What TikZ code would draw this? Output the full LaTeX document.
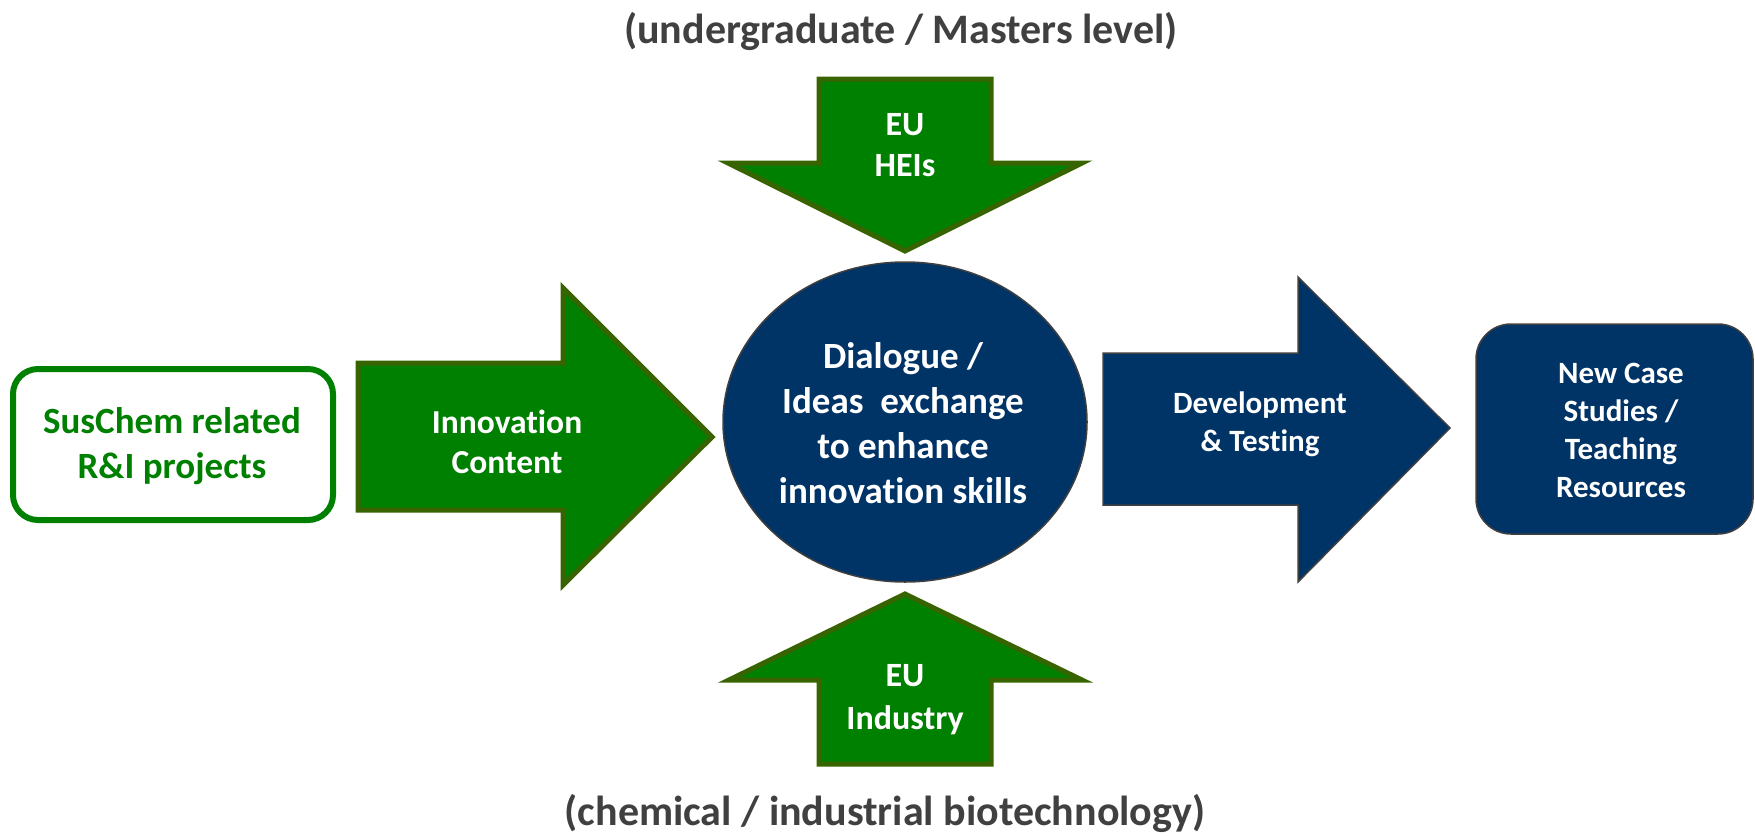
\documentclass[tikz,border=0pt]{standalone}
\usepackage{fontspec}
\setmainfont[Ligatures={NoCommon}]{Carlito}
\usepackage{tikz}

\definecolor{arrowgreen}{RGB}{0,128,0}
\definecolor{olive}{RGB}{56,100,0}
\definecolor{navy}{RGB}{0,51,102}
\definecolor{darkgray}{RGB}{64,64,64}

\tikzset{
  greenarrow/.style={fill=arrowgreen, draw=olive, line width=5pt, line join=miter},
  navyshape/.style={fill=navy, draw=darkgray, line width=1.5pt},
  label/.style={text=white, font=\bfseries, align=center, inner sep=0pt},
}

\begin{document}
\begin{tikzpicture}[x=1pt, y=-1pt]
  \useasboundingbox (0,0) rectangle (1755,835);

  % Titles above and below
  \node[font=\bfseries\fontsize{42}{50}\selectfont, text=darkgray, anchor=base, inner sep=0pt] (leveltop) at (901,43) {(undergraduate / Masters level)};
  \node[font=\bfseries\fontsize{42}{50}\selectfont, text=darkgray, anchor=base, inner sep=0pt] (sectorbot) at (885,825) {(chemical / industrial biotechnology)};

  % Left box
  \draw[draw=arrowgreen, line width=6pt, rounded corners=25pt, fill=white] (13,369) rectangle (333,520);
  \node[label, text=arrowgreen, font=\bfseries\fontsize{37}{45}\selectfont] (suschem) at (172,446) {SusChem related\\R\&I projects};

  % Arrow innovation content
  \draw[greenarrow] (358,363) -- (563,363) -- (563,288) -- (712,437) -- (563,585) -- (563,510) -- (358,510) -- cycle;
  \node[label, font=\bfseries\fontsize{33.5}{40}\selectfont] (innov) at (507,442) {Innovation\\Content};

  % Arrow from above
  \draw[greenarrow] (819,79) -- (991,79) -- (991,163) -- (1082,163) -- (905,251) -- (728,163) -- (819,163) -- cycle;
  \node[label, font=\bfseries\fontsize{34}{41}\selectfont] (heis) at (905,145) {EU\\HEIs};

  % Arrow from below
  \draw[greenarrow] (819,764) -- (991,764) -- (991,680) -- (1082,680) -- (905,594) -- (729,680) -- (819,680) -- cycle;
  \node[label, font=\bfseries\fontsize{34}{43}\selectfont] (industry) at (905,700) {EU\\Industry};

  % Central ellipse
  \draw[navyshape] (905,422) ellipse [x radius=182, y radius=160];
  \node[label, font=\bfseries\fontsize{37}{45}\selectfont] (dialogue) at (903,423) {Dialogue /\\Ideas~~exchange\\to enhance\\innovation skills};

  % Arrow development
  \draw[navyshape] (1103,353) -- (1298,353) -- (1298,277) -- (1450,428) -- (1298,582) -- (1298,505) -- (1103,505) -- cycle;
  \node[label, font=\bfseries\fontsize{31}{38}\selectfont] (devtest) at (1260,424) {Development\\\& Testing};

  % Right box
  \draw[navyshape, rounded corners=35pt] (1476,324) rectangle (1753,534);
  \node[label, font=\bfseries\fontsize{31}{38}\selectfont] (cases) at (1621,430) {New Case\\Studies /\\Teaching\\Resources};
\end{tikzpicture}
\end{document}
